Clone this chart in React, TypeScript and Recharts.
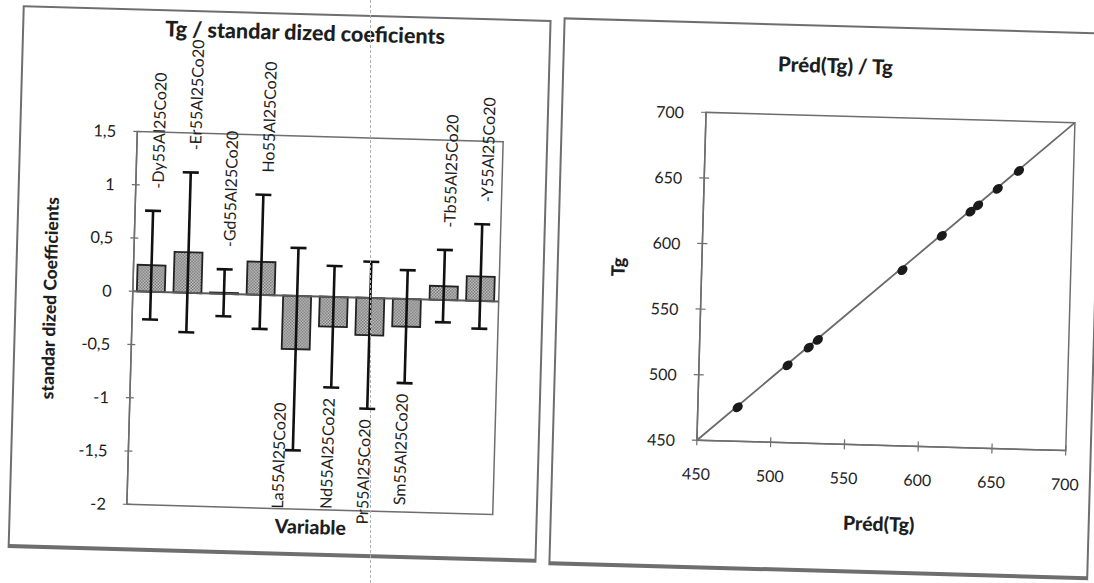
import React from 'react';
import {
  ComposedChart, Bar, ErrorBar, Line, XAxis, YAxis, ReferenceLine, ReferenceArea,
  ScatterChart, Scatter,
} from 'recharts';

// left chart: standardized coefficients per alloy
const categories = [
  'Dy55Al25Co20', 'Er55Al25Co20', 'Gd55Al25Co20', 'Ho55Al25Co20', 'La55Al25Co20',
  'Nd55Al25Co22', 'Pr55Al25Co20', 'Sm55Al25Co20', 'Tb55Al25Co20', 'Y55Al25Co20',
];
const categoryLabels = [
  '-Dy55Al25Co20', '-Er55Al25Co20', '-Gd55Al25Co20', 'Ho55Al25Co20', 'La55Al25Co20',
  'Nd55Al25Co22', 'Pr55Al25Co20', 'Sm55Al25Co20', '-Tb55Al25Co20', '-Y55Al25Co20',
];
const coefValues = [0.25, 0.38, 0.01, 0.31, -0.5, -0.28, -0.35, -0.26, 0.13, 0.23];
const coefErrors = [0.51, 0.75, 0.22, 0.63, 0.95, 0.57, 0.69, 0.53, 0.34, 0.49];
const coefTicks = [-2, -1.5, -1, -0.5, 0, 0.5, 1, 1.5];

// right chart: predicted vs observed Tg
const predTg = [477, 510, 524, 530, 586, 612, 631, 636, 649, 663];
const obsTg = [476, 509, 523, 529, 584, 611, 630, 635, 648, 662];
const tgTicks = [450, 500, 550, 600, 650, 700];

const FONT = 'Lato, "Open Sans", sans-serif';
const INK = '#1e1e1e';
const FRAME = '#6e6e6e';

// label anchors: above the error bar for positive bars, below for negative ones,
// dropped to the axis floor when it would run too far out of the plot
const coefRows = categories.map((name, i) => {
  const v = coefValues[i];
  const e = coefErrors[i];
  let labelY: number;
  let labelMode: 'up' | 'down' | 'base';
  if (v >= 0) {
    labelY = v + e + 0.21;
    labelMode = 'up';
  } else {
    const top = v - e - 0.1;
    if (top - 1.03 < -2.3) {
      labelY = -2;
      labelMode = 'base';
    } else {
      labelY = top;
      labelMode = 'down';
    }
  }
  return { name, label: categoryLabels[i], value: v, err: e, labelY, labelMode };
});

const tgRows = predTg.map((p, i) => ({ pred: p, tg: obsTg[i] }));

const CoefTick = ({ x, y, payload }: any) => (
  <g>
    <line x1={x - 4} x2={x + 4} y1={y} y2={y} stroke={FRAME} strokeWidth={1.2} />
    <text x={x - 21} y={y} textAnchor="end" dominantBaseline="central" fontSize={16.5} fill={INK} fontFamily={FONT}>
      {String(payload.value).replace('.', ',')}
    </text>
  </g>
);

const TgYTick = ({ x, y, payload }: any) => (
  <g>
    <line x1={x - 5} x2={x + 5} y1={y} y2={y} stroke={FRAME} strokeWidth={1.2} />
    <text x={x - 22} y={y} textAnchor="end" dominantBaseline="central" fontSize={16} fill={INK} fontFamily={FONT}>
      {payload.value}
    </text>
  </g>
);

const TgXTick = ({ x, y, payload }: any) => (
  <g>
    <line x1={x} x2={x} y1={y - 5} y2={y + 5} stroke={FRAME} strokeWidth={1.2} />
    <text x={x} y={y + 33} textAnchor="middle" dominantBaseline="central" fontSize={16} fill={INK} fontFamily={FONT}>
      {payload.value}
    </text>
  </g>
);

const CategoryLabel = (props: any) => {
  const { cx, cy, payload, index } = props;
  if (cx == null || cy == null) return <g key={index} />;
  const mode = payload.labelMode;
  const lx = cx + (mode === 'up' ? 3 : mode === 'down' ? -3 : -15);
  return (
    <text
      key={index}
      x={lx}
      y={cy}
      transform={`rotate(-90 ${lx} ${cy})`}
      textAnchor={mode === 'down' ? 'end' : 'start'}
      dominantBaseline="central"
      fontSize={16}
      fill={INK}
      fontFamily={FONT}
    >
      {payload.label}
    </text>
  );
};

const TgDot = ({ cx, cy }: any) => (
  <ellipse cx={cx} cy={cy} rx={5.6} ry={4.3} fill="#1a1a1a" transform={`rotate(-42 ${cx} ${cy})`} />
);

const boxStyle = (left: number, top: number, width: number, height: number): React.CSSProperties => ({
  position: 'absolute', left, top, width, height,
});

const frameStyle: React.CSSProperties = {
  position: 'absolute', left: 0, top: 0, right: 0, bottom: 0,
  border: `2px solid ${FRAME}`, borderBottom: `4px solid ${FRAME}`, boxSizing: 'border-box',
};

const textAt = (left: number, top: number, size: number, rotate = false): React.CSSProperties => ({
  position: 'absolute', left, top, fontFamily: FONT, fontWeight: 900, fontSize: size, color: INK,
  whiteSpace: 'nowrap', transform: `translate(-50%, -50%)${rotate ? ' rotate(-90deg)' : ''}`,
});

export default function App() {
  return (
    <div style={{ position: 'absolute', left: 0, top: 0, width: 1094, height: 583, overflow: 'hidden', background: '#fff' }}>
      <div style={{ position: 'absolute', left: 0, top: 0, width: 1094, height: 583, transform: 'rotate(1.6deg)', transformOrigin: '547px 291px' }}>
        {/* left panel */}
        <div style={boxStyle(15, 20, 529, 543)}>
          <div style={frameStyle} />
          <div style={textAt(283, 19, 21.5)}>Tg / standar dized coeficients</div>
          <div style={textAt(35, 292, 17.5, true)}>standar dized Coefficients</div>
          <div style={textAt(302, 513, 19.5)}>Variable</div>
          <div style={{ position: 'absolute', left: 0, top: 0 }}>
            <ComposedChart width={529} height={543} data={coefRows} margin={{ top: 123, right: 45, bottom: 47, left: 58 }}>
              <defs>
                <pattern id="barDots" width="3" height="3" patternUnits="userSpaceOnUse">
                  <rect width="3" height="3" fill="#cfcfcf" />
                  <rect width="1.5" height="1.5" fill="#6a6a6a" />
                  <rect x="1.5" y="1.5" width="1.5" height="1.5" fill="#6a6a6a" />
                </pattern>
              </defs>
              <XAxis dataKey="name" hide />
              <YAxis
                width={60}
                domain={[-2, 1.5]}
                ticks={coefTicks}
                interval={0}
                axisLine={{ stroke: FRAME, strokeWidth: 1.5 }}
                tickLine={false}
                tickSize={0}
                tickMargin={0}
                tick={<CoefTick />}
              />
              <ReferenceArea y1={-2} y2={1.5} fill="none" stroke={FRAME} strokeWidth={1.5} />
              <ReferenceLine y={0} stroke="#5a5a5a" strokeWidth={2} />
              <Bar dataKey="value" barSize={28} fill="url(#barDots)" stroke="#222" strokeWidth={1.8} isAnimationActive={false}>
                <ErrorBar dataKey="err" width={8} strokeWidth={2.6} stroke="#111" direction="y" />
              </Bar>
              <Line
                dataKey="labelY"
                stroke="none"
                dot={(p: any) => <CategoryLabel key={p.index} {...p} />}
                activeDot={false}
                legendType="none"
                isAnimationActive={false}
              />
            </ComposedChart>
          </div>
        </div>

        {/* right panel */}
        <div style={boxStyle(556, 17, 540, 548)}>
          <div style={frameStyle} />
          <div style={textAt(273, 40, 20.5)}>Préd(Tg) / Tg</div>
          <div style={textAt(61, 248, 18.5, true)}>Tg</div>
          <div style={textAt(329, 497, 19.5)}>Préd(Tg)</div>
          <div style={{ position: 'absolute', left: 0, top: 0 }}>
            <ScatterChart width={540} height={548} margin={{ top: 91, right: 26, bottom: 89, left: 85 }}>
              <XAxis
                type="number"
                dataKey="pred"
                domain={[450, 700]}
                ticks={tgTicks}
                allowDataOverflow
                height={40}
                axisLine={{ stroke: FRAME, strokeWidth: 1.5 }}
                tickLine={false}
                tickSize={0}
                tickMargin={0}
                tick={<TgXTick />}
              />
              <YAxis
                type="number"
                dataKey="tg"
                domain={[450, 700]}
                ticks={tgTicks}
                allowDataOverflow
                width={60}
                axisLine={{ stroke: FRAME, strokeWidth: 1.5 }}
                tickLine={false}
                tickSize={0}
                tickMargin={0}
                tick={<TgYTick />}
              />
              <ReferenceArea x1={450} x2={700} y1={450} y2={700} fill="none" stroke={FRAME} strokeWidth={1.5} />
              <ReferenceLine segment={[{ x: 450, y: 450 }, { x: 700, y: 700 }]} stroke="#6a6a6a" strokeWidth={1.8} />
              <Scatter data={tgRows} shape={<TgDot />} isAnimationActive={false} />
            </ScatterChart>
          </div>
        </div>
      </div>
      {/* fold line from the scan */}
      <div style={{ position: 'absolute', left: 370, top: 0, height: 583, borderLeft: '1px dashed #b0b0b0' }} />
    </div>
  );
}
